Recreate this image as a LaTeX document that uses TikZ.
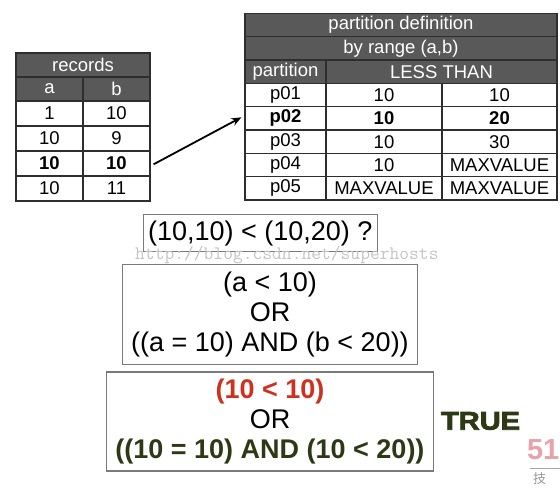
\documentclass[tikz,border=0pt]{standalone}
\usepackage{fontspec}
\setmainfont{Liberation Sans}
\newfontfamily\heavyfont[FakeBold=3,FakeStretch=1.14]{Liberation Sans Bold}
\newfontfamily\cjkfont{Noto Sans CJK SC}
\usetikzlibrary{arrows.meta}
\definecolor{hdrgray}{HTML}{595959}
\definecolor{tabline}{HTML}{2E2E2E}
\definecolor{boxline}{HTML}{7A7A7A}
\definecolor{falsered}{HTML}{D0301E}
\definecolor{truegreen}{HTML}{2B3A14}
\definecolor{wmgray}{HTML}{C4C4C4}
\definecolor{logopink}{HTML}{E8A2AA}
\begin{document}
\begin{tikzpicture}[x=1pt,y=-1pt,
  cell/.style={draw=tabline,line width=1.2pt,inner sep=0pt,
    font=\fontsize{18.5}{22}\selectfont},
  hdr/.style={cell,fill=hdrgray,text=white},
  exprbox/.style={draw=boxline,line width=1.1pt,inner sep=0pt,align=center,
    font=\fontsize{27}{30}\selectfont},
  link/.style={line width=1.8pt,-{Stealth[length=10pt,width=8pt]}}
]
\useasboundingbox (0,0) rectangle (560,488);

% ---------- records table ----------
\node[hdr,minimum width=134pt,minimum height=24pt] (rec) at (83,65) {records};
\node[hdr,minimum width=67pt,minimum height=24pt] (ra) at (49.5,89) {a};
\node[hdr,minimum width=67pt,minimum height=24pt] (rb) at (116.5,89) {b};
\node[cell,minimum width=67pt,minimum height=25pt] (r1a) at (49.5,113.5) {1};
\node[cell,minimum width=67pt,minimum height=25pt] (r1b) at (116.5,113.5) {10};
\node[cell,minimum width=67pt,minimum height=25pt] (r2a) at (49.5,138.5) {10};
\node[cell,minimum width=67pt,minimum height=25pt] (r2b) at (116.5,138.5) {9};
\node[cell,minimum width=67pt,minimum height=25pt] (r3a) at (49.5,163.5) {\bfseries 10};
\node[cell,minimum width=67pt,minimum height=25pt] (r3b) at (116.5,163.5) {\bfseries 10};
\node[cell,minimum width=67pt,minimum height=25pt] (r4a) at (49.5,188.5) {10};
\node[cell,minimum width=67pt,minimum height=25pt] (r4b) at (116.5,188.5) {11};

% ---------- partition table ----------
\node[hdr,minimum width=312pt,minimum height=23.3pt] (pd) at (401,25) {partition definition};
\node[hdr,minimum width=312pt,minimum height=23.3pt] (pr) at (401,48.3) {by range (a,b)};
\node[hdr,minimum width=81pt,minimum height=23.3pt] (ph1) at (285.5,71.7) {partition};
\node[hdr,minimum width=231pt,minimum height=23.3pt] (ph2) at (441.5,71.7) {LESS THAN};

\node[cell,minimum width=81pt,minimum height=23.3pt] (p1n) at (285.5,95) {p01};
\node[cell,minimum width=116pt,minimum height=23.3pt] (p1a) at (384,95) {10};
\node[cell,minimum width=115pt,minimum height=23.3pt] (p1b) at (499.5,95) {10};

\node[cell,minimum width=81pt,minimum height=23.3pt] (p2n) at (285.5,118.3) {\bfseries p02};
\node[cell,minimum width=116pt,minimum height=23.3pt] (p2a) at (384,118.3) {\bfseries 10};
\node[cell,minimum width=115pt,minimum height=23.3pt] (p2b) at (499.5,118.3) {\bfseries 20};

\node[cell,minimum width=81pt,minimum height=23.3pt] (p3n) at (285.5,141.7) {p03};
\node[cell,minimum width=116pt,minimum height=23.3pt] (p3a) at (384,141.7) {10};
\node[cell,minimum width=115pt,minimum height=23.3pt] (p3b) at (499.5,141.7) {30};

\node[cell,minimum width=81pt,minimum height=23.3pt] (p4n) at (285.5,165) {p04};
\node[cell,minimum width=116pt,minimum height=23.3pt] (p4a) at (384,165) {10};
\node[cell,minimum width=115pt,minimum height=23.3pt] (p4b) at (499.5,165) {MAXVALUE};

\node[cell,minimum width=81pt,minimum height=23.3pt] (p5n) at (285.5,188.3) {p05};
\node[cell,minimum width=116pt,minimum height=23.3pt] (p5a) at (384,188.3) {MAXVALUE};
\node[cell,minimum width=115pt,minimum height=23.3pt] (p5b) at (499.5,188.3) {MAXVALUE};

% ---------- arrow ----------
\draw[link] ([xshift=3pt,yshift=-0.8pt]r3b.east) -- ([xshift=-3pt,yshift=1pt]p2n.west);

% ---------- expression boxes ----------
\node[exprbox,minimum width=234pt,minimum height=37pt] (q) at (260.3,233.2) {(10,10) < (10,20) ?};

\node[text=wmgray,anchor=base west,inner sep=0pt,
  font=\ttfamily\fontsize{19}{20}\selectfont] (wm) at (135,259) {http://blog.csdn.net/superhosts};

\node[exprbox,minimum width=294.7pt,minimum height=99.7pt] (cond) at (270,314.2)
  {(a < 10)\\OR\\((a = 10) AND (b < 20))};

\node[exprbox,minimum width=326.7pt,minimum height=99pt] (eval) at (270,421.5)
  {\textcolor{falsered}{\bfseries (10 < 10)}\\OR\\\textcolor{truegreen}{\bfseries ((10 = 10) AND (10 < 20))}};

\node[inner sep=0pt,text=truegreen,font=\heavyfont\fontsize{25.5}{28}\selectfont] (res) at (480.5,421) {TRUE};

% ---------- corner logo ----------
\node[inner sep=0pt,anchor=north east,text=logopink,font=\bfseries\fontsize{29}{30}\selectfont] (logo) at (559.5,439) {51};
\coordinate (lgA) at (530,468);
\coordinate (lgB) at (560,468);
\draw[gray!70,line width=0.8pt] (lgA) -- (lgB);
\node[inner sep=0pt,anchor=north west,text=gray!80,font=\cjkfont\fontsize{13}{14}\selectfont] (logotxt) at (533,472) {技};
\end{tikzpicture}
\end{document}
